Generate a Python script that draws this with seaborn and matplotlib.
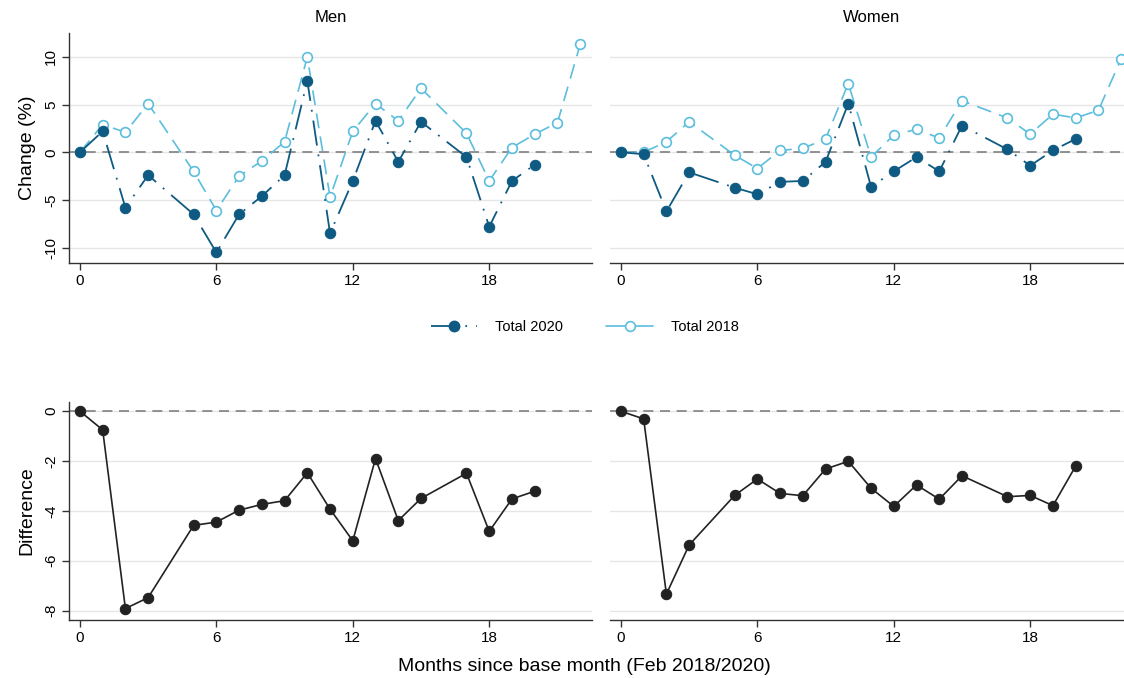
import numpy as np
import pandas as pd
import matplotlib
matplotlib.use("Agg")
import matplotlib.pyplot as plt
import seaborn as sns
from matplotlib.lines import Line2D

sns.set_theme(style="white")
plt.rcParams['font.family'] = ['Liberation Sans', 'DejaVu Sans']
plt.rcParams['text.color'] = 'black'
plt.rcParams['axes.labelcolor'] = 'black'
plt.rcParams['xtick.color'] = 'black'
plt.rcParams['ytick.color'] = 'black'

# ---- data ----
months_2020 = [0, 1, 2, 3, 5, 6, 7, 8, 9, 10, 11, 12, 13, 14, 15, 17, 18, 19, 20]
months_2018 = [0, 1, 2, 3, 5, 6, 7, 8, 9, 10, 11, 12, 13, 14, 15, 17, 18, 19, 20, 21, 22]

men_2020 = [0, 2.2, -5.8, -2.4, -6.5, -10.5, -6.5, -4.6, -2.4, 7.5, -8.5, -3.0, 3.3, -1.0, 3.2, -0.5, -7.8, -3.0, -1.3]
men_2018 = [0, 2.9, 2.1, 5.1, -2.0, -6.1, -2.5, -0.9, 1.1, 10.0, -4.7, 2.2, 5.1, 3.3, 6.7, 2.0, -3.0, 0.5, 1.9, 3.1, 11.3]
women_2020 = [0, -0.2, -6.2, -2.1, -3.7, -4.4, -3.1, -3.0, -1.0, 5.1, -3.6, -2.0, -0.5, -2.0, 2.8, 0.3, -1.4, 0.2, 1.4]
women_2018 = [0, 0.0, 1.1, 3.2, -0.3, -1.7, 0.2, 0.4, 1.4, 7.2, -0.5, 1.8, 2.4, 1.5, 5.4, 3.6, 1.9, 4.0, 3.6, 4.4, 9.8]

men_diff = [0, -0.75, -7.92, -7.48, -4.58, -4.45, -3.97, -3.74, -3.59, -2.47, -3.93, -5.2, -1.90, -4.39, -3.50, -2.49, -4.82, -3.52, -3.21]
women_diff = [0, -0.31, -7.34, -5.37, -3.38, -2.72, -3.30, -3.39, -2.32, -2.01, -3.09, -3.82, -2.96, -3.53, -2.59, -3.43, -3.38, -3.79, -2.20]

panel_titles = ["Men", "Women"]
x_ticks = [0, 6, 12, 18]
top_yticks = [-10, -5, 0, 5, 10]
bot_yticks = [-8, -6, -4, -2, 0]
legend_labels = ["Total 2020", "Total 2018"]

DARK = "#0e5a82"
LIGHT = "#5cbedd"
GRID = "#e6e6e6"
ZERO = "#808080"
LS20 = (0, (14, 5, 1, 5))
LS18 = (0, (9, 5))

fig = plt.figure(figsize=(11.24, 6.78), dpi=100)
W = 0.4653
pos_top = [(0.0614, 0.6121, W, 0.3392), (0.5427, 0.6121, W, 0.3392)]
pos_bot = [(0.0614, 0.0855, W, 0.3216), (0.5427, 0.0855, W, 0.3216)]

top_axes = [fig.add_axes(p) for p in pos_top]
bot_axes = [fig.add_axes(p) for p in pos_bot]

def style_axis(ax, yticks, ylim, left):
    ax.set_xlim(-0.48, 22.52)
    ax.set_ylim(*ylim)
    ax.set_xticks(x_ticks)
    ax.set_xticklabels([str(t) for t in x_ticks])
    ax.set_yticks(yticks)
    ax.set_yticklabels([str(t) for t in yticks])
    for s in ['top', 'right']:
        ax.spines[s].set_visible(False)
    ax.spines['bottom'].set_color('#333333')
    ax.spines['bottom'].set_linewidth(1.0)
    if left:
        ax.spines['left'].set_color('#333333')
        ax.spines['left'].set_linewidth(1.0)
        ax.tick_params(axis='y', direction='out', length=5, width=1, color='#333333',
                       labelsize=11, labelrotation=90, pad=3, left=True, labelcolor='black')
        for lab in ax.get_yticklabels():
            lab.set_va('center')
    else:
        ax.spines['left'].set_visible(False)
        ax.tick_params(axis='y', left=False, labelleft=False)
    ax.tick_params(axis='x', direction='out', length=5, width=1, color='#333333',
                   labelsize=11, pad=3, bottom=True, labelcolor='black')
    ax.yaxis.grid(True, color=GRID, linewidth=1.0)
    ax.xaxis.grid(False)
    ax.set_axisbelow(True)
    ax.axhline(0, color=ZERO, linewidth=1.2, linestyle=(0, (6, 4)), zorder=1)

data_top = [(men_2020, men_2018), (women_2020, women_2018)]
for i, ax in enumerate(top_axes):
    v20, v18 = data_top[i]
    style_axis(ax, top_yticks, (-11.6, 12.5), left=(i == 0))
    sns.lineplot(x=months_2018, y=v18, ax=ax, color=LIGHT, linewidth=1.2,
                 linestyle=LS18, marker='o', markersize=7,
                 markerfacecolor='white', markeredgecolor=LIGHT, markeredgewidth=1.2,
                 zorder=3)
    sns.lineplot(x=months_2020, y=v20, ax=ax, color=DARK, linewidth=1.3,
                 linestyle=LS20, marker='o', markersize=7.5,
                 markerfacecolor=DARK, markeredgecolor=DARK, zorder=4)
    ax.set_title(panel_titles[i], fontsize=12, pad=8, color='black')
    ax.set_xlabel("")
    ax.set_ylabel("")

data_bot = [men_diff, women_diff]
for i, ax in enumerate(bot_axes):
    style_axis(ax, bot_yticks, (-8.38, 0.37), left=(i == 0))
    sns.lineplot(x=months_2020, y=data_bot[i], ax=ax, color='#222222', linewidth=1.2,
                 marker='o', markersize=7.5, markerfacecolor='#222222',
                 markeredgecolor='#222222', zorder=4)
    ax.set_xlabel("")
    ax.set_ylabel("")

top_axes[0].set_ylabel("Change (%)", fontsize=14, labelpad=6)
bot_axes[0].set_ylabel("Difference", fontsize=14, labelpad=6)
fig.text(0.52, 0.017, "Months since base month (Feb 2018/2020)", ha='center', va='center', fontsize=14)

handles = [
    Line2D([0], [0], color=DARK, linewidth=1.3, linestyle=LS20, marker='o',
           markersize=7.5, markerfacecolor=DARK, markeredgecolor=DARK),
    Line2D([0], [0], color=LIGHT, linewidth=1.2, marker='o', markersize=7,
           markerfacecolor='white', markeredgecolor=LIGHT, markeredgewidth=1.2),
]
fig.legend(handles, legend_labels, loc='center', bbox_to_anchor=(0.52, 0.517), ncol=2,
           frameon=False, fontsize=10.5, handlelength=3.2, columnspacing=3.0,
           handletextpad=1.2)

fig.savefig("out.png", dpi=100)
